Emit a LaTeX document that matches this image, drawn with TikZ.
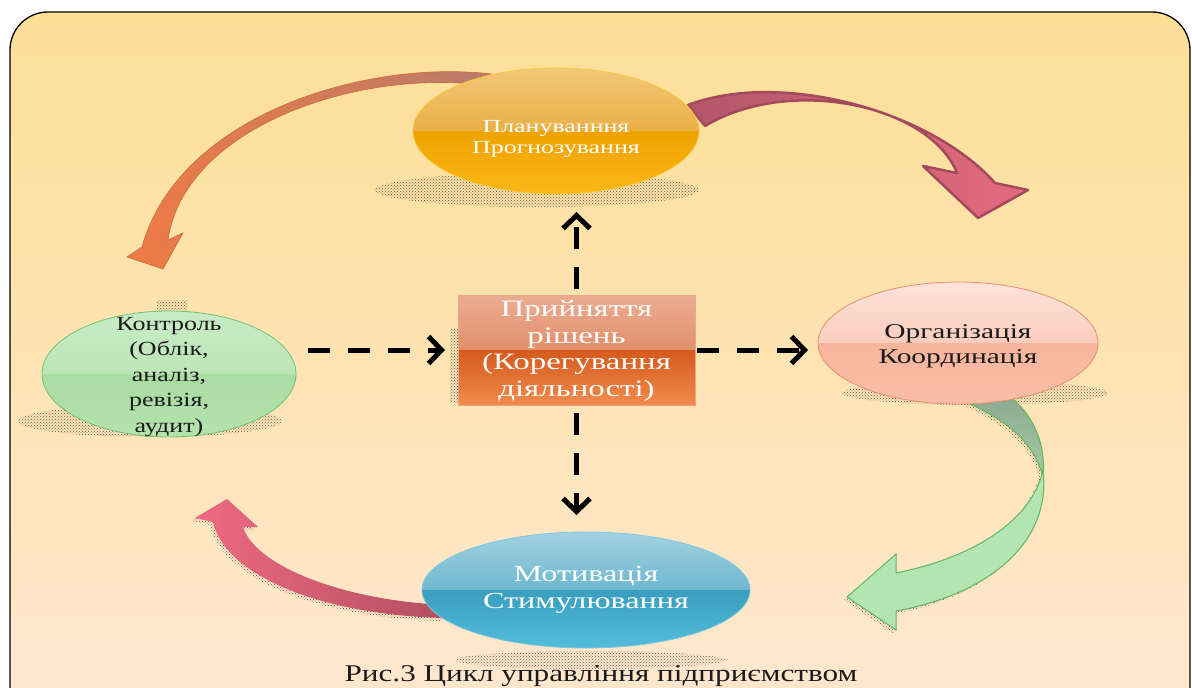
\documentclass[tikz,border=0pt]{standalone}
\usepackage{fontspec}
\setmainfont{Liberation Serif}[FakeStretch=1.3]
\newfontfamily\cambr{Liberation Serif}[FakeStretch=1.4]
\usetikzlibrary{arrows.meta,shapes.geometric,patterns}

\definecolor{bgtop}{HTML}{FDDF96}
\definecolor{bgbot}{HTML}{FFE8D2}
\definecolor{shad}{HTML}{5E584E}
\definecolor{plA}{HTML}{F2C779}
\definecolor{plB}{HTML}{E9B045}
\definecolor{plC}{HTML}{EFA200}
\definecolor{plD}{HTML}{FBB818}
\definecolor{plE}{HTML}{F7C940}
\definecolor{ctA}{HTML}{C9EDC6}
\definecolor{ctB}{HTML}{BCE5B7}
\definecolor{ctC}{HTML}{A9DCA2}
\definecolor{ctD}{HTML}{B5E3AE}
\definecolor{ctE}{HTML}{72C172}
\definecolor{orgA}{HTML}{FEE3DA}
\definecolor{orgB}{HTML}{FBCDBE}
\definecolor{orgC}{HTML}{F8B59E}
\definecolor{orgD}{HTML}{F9BEA8}
\definecolor{orgE}{HTML}{EA8F6E}
\definecolor{motA}{HTML}{A4D2E2}
\definecolor{motB}{HTML}{6EB7CE}
\definecolor{motC}{HTML}{3A9EBE}
\definecolor{motD}{HTML}{55BDDC}
\definecolor{motE}{HTML}{7CC8E0}
\definecolor{boxA}{HTML}{EBAC92}
\definecolor{boxB}{HTML}{E28F6B}
\definecolor{boxC}{HTML}{D55A1D}
\definecolor{boxD}{HTML}{F18B4D}
\definecolor{boxE}{HTML}{EFA585}
\definecolor{oaA}{HTML}{EE7B45}
\definecolor{oaB}{HTML}{B87B6D}
\definecolor{raA}{HTML}{B3566A}
\definecolor{raB}{HTML}{E56B7F}
\definecolor{raC}{HTML}{A44A5C}
\definecolor{grA}{HTML}{8FAA92}
\definecolor{grB}{HTML}{A5CBA5}
\definecolor{grC}{HTML}{B2E5B2}
\definecolor{grD}{HTML}{63B563}
\definecolor{rbA}{HTML}{F06A82}
\definecolor{rbB}{HTML}{B24F5F}
\definecolor{ink}{HTML}{1A1A1A}

\newcommand{\glossell}[8]{%
  \begin{scope}
    \clip (#1,#2) ellipse [x radius=#3, y radius=#4];
    \shade[top color=#5, bottom color=#6] (#1-#3-1,#2-#4-1) rectangle (#1+#3+1,#2);
    \shade[top color=#7, bottom color=#8] (#1-#3-1,#2) rectangle (#1+#3+1,#2+#4+1);
  \end{scope}}

\begin{document}
\begin{tikzpicture}[x=1pt,y=-1pt,
  ellnode/.style={ellipse, inner sep=0pt, outer sep=0pt, line width=0.8pt},
  txt/.style={align=center, inner sep=0pt},
  dasharrow/.style={line width=5pt, dash pattern=on 22pt off 18pt,
     -{Straight Barb[length=13pt,width=27pt]}},
  shadowpat/.style={pattern=crosshatch dots, pattern color=shad},
  blockarrow/.style={line width=0.6pt}]
\useasboundingbox (0,0) rectangle (1192,688);
\clip (0,0) rectangle (1192,688);
\fill[white] (0,0) rectangle (1192,688);
\shadedraw[top color=bgtop, bottom color=bgbot, draw=black, line width=1.3pt,
  rounded corners=38pt] (10,12) rectangle (1190,730);

% halftone shadows
\fill[shadowpat] (537,190) ellipse [x radius=162, y radius=17];
\fill[shadowpat] (150,421) ellipse [x radius=132, y radius=16];
\fill[shadowpat] (157,300) rectangle (187,311);
\fill[shadowpat] (450,328) rectangle (690,402);
\fill[shadowpat] (975,393) ellipse [x radius=133, y radius=12];
\fill[shadowpat] (590,660) ellipse [x radius=135, y radius=9];

% orange curved arrow (planning -> control)
\shadedraw[blockarrow, left color=oaA, right color=oaB, draw=oaA!85!black]
  (505,76) .. controls (380,55) and (180,110) .. (142,247)
  -- (127,257) -- (163,269) -- (183,233) -- (168,240)
  .. controls (185,120) and (380,62) .. (505,89) -- cycle;

% red curved arrow (planning -> organisation)
\shadedraw[line width=2.5pt, left color=raA, right color=raB, draw=raC, line join=round]
  (688,105) .. controls (780,70) and (930,110) .. (995,183)
  -- (1028,190) -- (978,218) -- (923,166) -- (957,173)
  .. controls (930,105) and (790,75) .. (705,126) -- cycle;

% green curved arrow (organisation -> motivation)
\begin{scope}[shift={(-3,3)}]
\fill[shadowpat]
  (1043,470) .. controls (1052,545) and (985,595) .. (896,611)
  -- (896,630) -- (847,597) -- (896,554) -- (896,573)
  .. controls (975,557) and (1032,520) .. (1043,470) -- cycle;
\fill[shadowpat]
  (955,398) .. controls (1000,415) and (1035,440) .. (1043,478)
  .. controls (1046,445) and (1035,418) .. (1012,398) -- cycle;
\end{scope}
\shadedraw[line width=1pt, top color=grA, bottom color=grB, draw=grD]
  (955,398) .. controls (1000,415) and (1035,440) .. (1043,478)
  .. controls (1046,445) and (1035,418) .. (1012,398) -- cycle;
\filldraw[line width=1pt, fill=grC, draw=grD]
  (1043,470) .. controls (1052,545) and (985,595) .. (896,611)
  -- (896,630) -- (847,597) -- (896,554) -- (896,573)
  .. controls (975,557) and (1032,520) .. (1043,470) -- cycle;

% red curved arrow (motivation -> control)
\begin{scope}[shift={(-3,3)}]
\fill[shadowpat]
  (213,522) .. controls (225,575) and (320,615) .. (445,618)
  -- (445,605) .. controls (340,600) and (255,565) .. (243,527)
  -- (258,527) -- (227,499) -- (195,518) -- cycle;
\end{scope}
\shade[left color=rbA, right color=rbB]
  (213,522) .. controls (225,575) and (320,615) .. (445,618)
  -- (445,605) .. controls (340,600) and (255,565) .. (243,527)
  -- (258,527) -- (227,499) -- (195,518) -- cycle;

% glossy fills
\glossell{556}{131}{143}{63}{plA}{plB}{plC}{plD}
\glossell{169}{374}{127}{63}{ctA}{ctB}{ctC}{ctD}
\glossell{958}{343}{140}{61}{orgA}{orgB}{orgC}{orgD}
\glossell{586}{590}{164}{58}{motA}{motB}{motC}{motD}
\shade[top color=boxA, bottom color=boxB] (458,295) rectangle (695,350);
\shade[top color=boxC, bottom color=boxD] (458,350) rectangle (695,405);

% nodes
\node[ellnode, draw=plE, minimum width=286pt, minimum height=126pt] (plan) at (556,131) {};
\node[ellnode, draw=ctE, minimum width=254pt, minimum height=126pt] (ctrl) at (169,374) {};
\node[ellnode, draw=orgE, minimum width=280pt, minimum height=122pt] (org) at (958,343) {};
\node[ellnode, draw=motE, minimum width=328pt, minimum height=116pt] (mot) at (586,590) {};
\node[draw=boxE, line width=0.8pt, inner sep=0pt, outer sep=0pt,
  minimum width=237pt, minimum height=110pt] (box) at (576.5,350) {};

% texts
\node[txt, white, font=\cambr\fontsize{18.5}{21}\selectfont] (plantxt) at (556,139)
  {Плануванння\\Прогнозування};
\node[txt, ink, font=\fontsize{20}{25.5}\selectfont] (ctrltxt) at (169,377)
  {Контроль\\(Облік,\\аналіз,\\ревізія,\\аудит)};
\node[txt, ink, font=\cambr\fontsize{21}{25}\selectfont] (orgtxt) at (958,346)
  {Організація\\Координація};
\node[txt, white, font=\cambr\fontsize{23}{27}\selectfont] (mottxt) at (586,590)
  {Мотивація\\Стимулювання};
\node[txt, white, font=\cambr\fontsize{23.5}{26.7}\selectfont] (boxtxt) at (576.5,351)
  {Прийняття\\рішень\\(Корегування\\діяльності)};

% dashed connectors
\draw[dasharrow, shorten <=12pt, shorten >=13pt] (ctrl.east |- box.west) -- (box.west);
\draw[dasharrow, shorten <=2pt, shorten >=10pt] (box.east) -- (box.east -| org.west);
\draw[dasharrow, shorten <=6pt, shorten >=18pt] (box.north) -- (box.north |- plan.south);
\draw[dasharrow, shorten <=8pt, shorten >=17pt] (box.south) -- (box.south |- mot.north);

% caption
\node[anchor=base, ink, inner sep=0pt, font=\fontsize{24}{28}\selectfont] (cap) at (601,681)
  {Рис.3 Цикл управління підприємством};
\end{tikzpicture}
\end{document}
